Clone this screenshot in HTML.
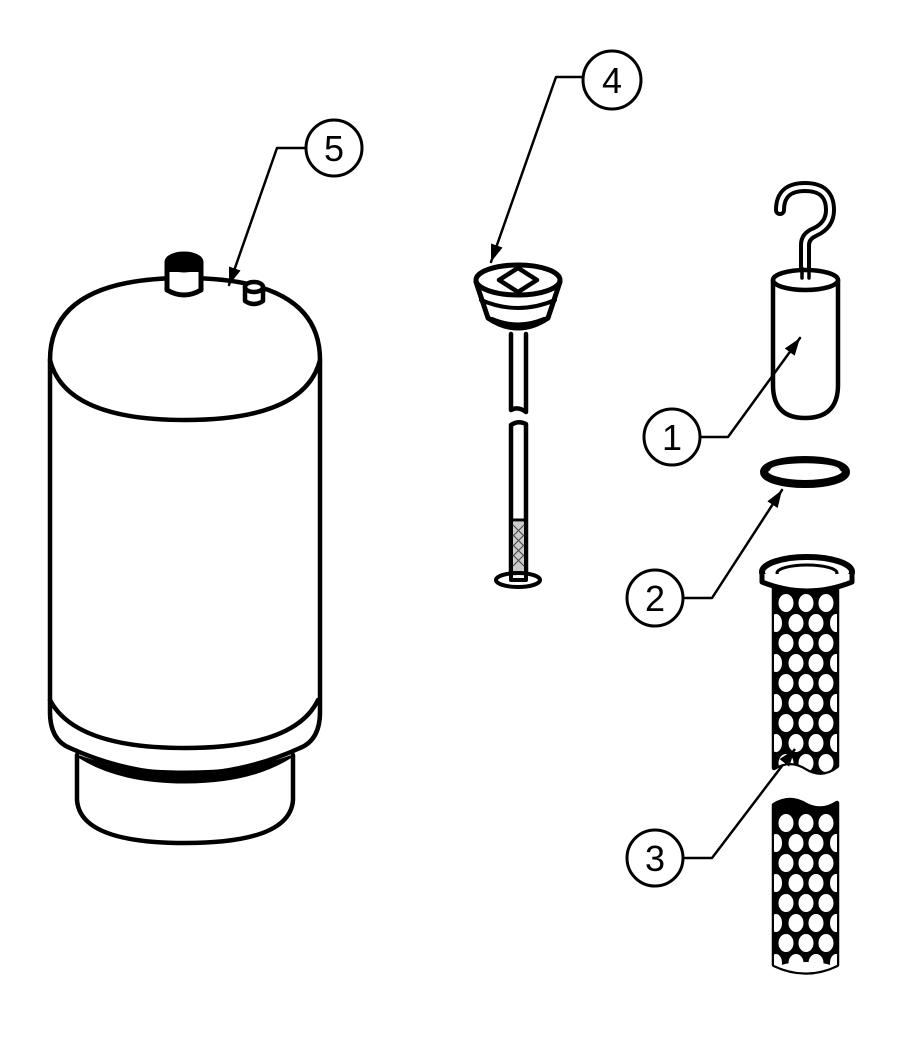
<!DOCTYPE html>
<html><head><meta charset="utf-8"><style>html,body{margin:0;padding:0;background:#fff}svg{display:block}</style></head>
<body>
<svg width="910" height="1043" viewBox="0 0 910 1043" xmlns="http://www.w3.org/2000/svg">
<defs>
<marker id="ar" viewBox="0 0 10 10" refX="10" refY="5" markerWidth="7" markerHeight="7" orient="auto-start-reverse"><path d="M0,1.5 L10,5 L0,8.5 z" fill="#000"/></marker>
<clipPath id="t1"><path d="M774,585 L774,768 Q790,758 806,768 Q822,778 837,766 L837,585 z"/></clipPath>
<clipPath id="t2"><path d="M774,805 Q790,795 806,805 Q822,813 837,803 L837,965 Q806,980 774,965 z"/></clipPath>
</defs>
<g fill="none" stroke="#000" stroke-width="4.5" stroke-linecap="round" stroke-linejoin="round">
<!-- Tank -->
<path d="M50,360 Q50,278 185,278 Q320,278 320,360 L320,712 Q320,740 300,748 Q185,800 70,748 Q50,740 50,712 Z" fill="#fff"/>
<path d="M50,360 Q65,420 185,420 Q305,420 320,360"/>
<path d="M50,700 Q75,748 185,748 Q295,748 318,700"/>
<path d="M77,755 L77,800 Q80,843 185,843 Q290,843 293,800 L293,755"/>
<path d="M80,757 Q120,782 185,782 Q250,782 290,757 Q250,772 185,772 Q120,772 80,757 z" fill="#000" stroke-width="3"/>
<!-- fittings -->
<path d="M167,262 L167,290 Q184,300 201,290 L201,262" fill="#fff" stroke-width="5"/>
<ellipse cx="184" cy="262" rx="17" ry="8" fill="#000" stroke-width="5"/>
<rect x="167" y="262" width="34" height="10" fill="#000" stroke="none"/>
<path d="M245,287 L245,301 Q254,307 263,301 L263,287" fill="#fff"/>
<ellipse cx="254" cy="287" rx="9" ry="5" fill="#fff"/>
<!-- callout 5 -->
<circle cx="334" cy="148" r="28" stroke-width="3"/>
<path d="M306,148 L277,148 L229,285" stroke-width="2.5" marker-end="url(#ar)"/>
<!-- item 4 -->
<path d="M476,282 L488,318 Q518,338 548,318 L560,282" fill="#fff" stroke-width="5"/>
<ellipse cx="518" cy="280" rx="42" ry="15" fill="#fff" stroke-width="5"/>
<path d="M481,300 Q518,316 555,300" stroke-width="4"/>
<path d="M492,319 Q518,330 544,319" stroke-width="4"/>
<path d="M518,268 L537,280 L518,292 L499,280 z" stroke-width="4.5"/>
<path d="M511,334 L511,410 Q518,406 526,412 L526,334" stroke-width="4.5"/>
<path d="M511,425 Q518,420 526,424 L526,575 M511,425 L511,575" stroke-width="4.5"/>
<path d="M511,520 L526,520" stroke-width="3"/>
<rect x="513" y="522" width="11" height="53" fill="#ccc" stroke="none"/>
<path d="M513,525 L524,536 M513,535 L524,546 M513,545 L524,556 M513,555 L524,566 M524,525 L513,536 M524,535 L513,546 M524,545 L513,556 M524,555 L513,566" stroke-width="1" stroke="#444"/>
<ellipse cx="518" cy="580" rx="22" ry="7" fill="#fff" stroke-width="4"/>
<path d="M511,574 L511,580 L526,580 L526,574" stroke-width="4"/>
<!-- callout 4 -->
<circle cx="612" cy="80" r="29" stroke-width="3"/>
<path d="M583,77 L556,77 L491,262" stroke-width="2.5" marker-end="url(#ar)"/>
<!-- item 1 -->
<path d="M805,278 L805,245 Q805,236 815,232 Q830,225 830,210 Q830,187 805,187 Q780,187 780,210" stroke-width="12"/>
<path d="M805,278 L805,245 Q805,236 815,232 Q830,225 830,210 Q830,187 805,187 Q780,187 780,210" stroke="#fff" stroke-width="4"/>
<path d="M773,280 L773,385 Q773,418 805,418 Q838,418 838,385 L838,280" fill="#fff"/>
<ellipse cx="805.5" cy="280" rx="32.5" ry="10" fill="#fff"/>
<path d="M802,278 L802,268 M809,278 L809,268" stroke-width="3.5"/>
<circle cx="672" cy="437" r="28" stroke-width="3"/>
<path d="M700,437 L728,437 L800,338" stroke-width="2.5" marker-end="url(#ar)"/>
<!-- item 2 -->
<ellipse cx="805" cy="472" rx="41" ry="12" stroke-width="8"/>
<ellipse cx="805" cy="470" rx="34" ry="6" stroke="#fff" stroke-width="1.5"/>
<circle cx="655" cy="598" r="28" stroke-width="3"/>
<path d="M683,598 L712,598 L782,490" stroke-width="2.5" marker-end="url(#ar)"/>
<!-- item 3 -->
<g clip-path="url(#t1)"><rect x="770" y="580" width="70" height="200" fill="#000" stroke="none"/></g>
<g clip-path="url(#t2)"><rect x="770" y="795" width="70" height="190" fill="#000" stroke="none"/></g>
<path d="M774,585 L774,768 Q790,758 806,768 Q822,778 837,766 L837,585" stroke-width="4.5"/>
<path d="M774,805 Q790,795 806,805 Q822,813 837,803 L837,965 Q806,980 774,965 z" stroke-width="4.5"/>
<ellipse cx="807" cy="572" rx="45" ry="15" fill="#fff" stroke-width="6"/>
<ellipse cx="807" cy="573" rx="30" ry="8" stroke-width="3"/>
<path d="M762,574 L762,582 Q807,600 852,582 L852,574" fill="#fff" stroke-width="5"/>
<circle cx="655" cy="858" r="28" stroke-width="3"/>
<path d="M683,858 L712,858 L785,762" stroke-width="2.5"/>
</g>
<g fill="#fff" stroke="none">
<g clip-path="url(#t1)">
<g id="holes">
<ellipse cx="786" cy="603" rx="7.5" ry="9"/><ellipse cx="806" cy="603" rx="7.5" ry="9"/><ellipse cx="826" cy="603" rx="7.5" ry="9"/>
<ellipse cx="776" cy="623" rx="6" ry="9"/><ellipse cx="796" cy="623" rx="7.5" ry="9"/><ellipse cx="816" cy="623" rx="7.5" ry="9"/><ellipse cx="836" cy="623" rx="6" ry="9"/>
<ellipse cx="786" cy="643" rx="7.5" ry="9"/><ellipse cx="806" cy="643" rx="7.5" ry="9"/><ellipse cx="826" cy="643" rx="7.5" ry="9"/>
<ellipse cx="776" cy="663" rx="6" ry="9"/><ellipse cx="796" cy="663" rx="7.5" ry="9"/><ellipse cx="816" cy="663" rx="7.5" ry="9"/><ellipse cx="836" cy="663" rx="6" ry="9"/>
<ellipse cx="786" cy="683" rx="7.5" ry="9"/><ellipse cx="806" cy="683" rx="7.5" ry="9"/><ellipse cx="826" cy="683" rx="7.5" ry="9"/>
<ellipse cx="776" cy="703" rx="6" ry="9"/><ellipse cx="796" cy="703" rx="7.5" ry="9"/><ellipse cx="816" cy="703" rx="7.5" ry="9"/><ellipse cx="836" cy="703" rx="6" ry="9"/>
<ellipse cx="786" cy="723" rx="7.5" ry="9"/><ellipse cx="806" cy="723" rx="7.5" ry="9"/><ellipse cx="826" cy="723" rx="7.5" ry="9"/>
<ellipse cx="776" cy="743" rx="6" ry="9"/><ellipse cx="796" cy="743" rx="7.5" ry="9"/><ellipse cx="816" cy="743" rx="7.5" ry="9"/><ellipse cx="836" cy="743" rx="6" ry="9"/>
<ellipse cx="786" cy="763" rx="7.5" ry="9"/><ellipse cx="806" cy="763" rx="7.5" ry="9"/><ellipse cx="826" cy="763" rx="7.5" ry="9"/>
</g>
</g>
<g clip-path="url(#t2)">
<use href="#holes" transform="translate(0,220)"/>
<ellipse cx="806" cy="968" rx="28" ry="6"/>
</g>
</g>
<path d="M785,762 L795,749" stroke="#000" stroke-width="2.5" fill="none" marker-end="url(#ar)"/>
<g font-family="Liberation Sans, sans-serif" font-size="36" text-anchor="middle" fill="#000">
<text x="334" y="161">5</text>
<text x="612" y="93">4</text>
<text x="672" y="450">1</text>
<text x="655" y="611">2</text>
<text x="655" y="871">3</text>
</g>
</svg>
</body></html>
